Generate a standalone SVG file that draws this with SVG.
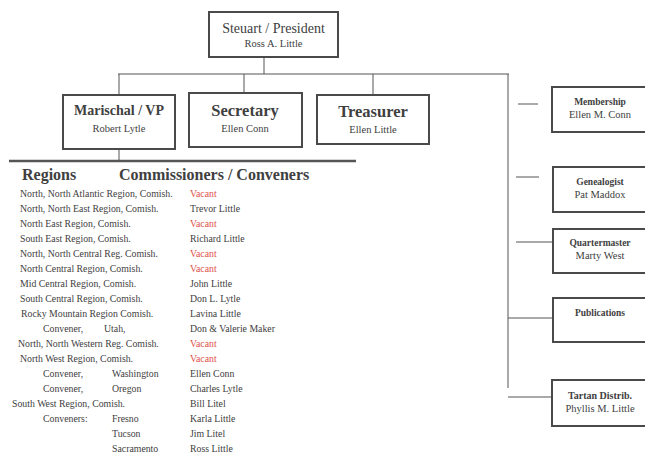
<svg xmlns="http://www.w3.org/2000/svg" width="645" height="457" viewBox="0 0 645 457">
<style>
text{font-family:"Liberation Serif","Times New Roman",serif;fill:#404040}
.box{fill:#fff;stroke:#4a4a4a;stroke-width:2}
.ln{stroke:#555;stroke-width:1;fill:none}
.thick{stroke:#555;stroke-width:2.5}
.t1{font-size:14px}
.t2{font-size:10.5px}
.b{font-weight:bold}
.h{font-size:16px;font-weight:bold}
.r{font-size:9.8px}
.v{fill:#e0504a}
.m{text-anchor:middle}
</style>
<rect width="645" height="457" fill="#fff"/>
<g id="connectors">
<line class="ln" x1="264" y1="57" x2="264" y2="74"/>
<line class="ln" x1="118" y1="74" x2="509" y2="74"/>
<line class="ln" x1="119" y1="74" x2="119" y2="95"/>
<line class="ln" x1="244" y1="74" x2="244" y2="93"/>
<line class="ln" x1="373" y1="74" x2="373" y2="95"/>
<line class="ln" x1="508" y1="74" x2="508" y2="388"/>
<line class="ln" x1="518" y1="104" x2="538" y2="104"/>
<line class="ln" x1="516" y1="177" x2="539" y2="177"/>
<line class="ln" x1="516" y1="242" x2="553" y2="242"/>
<line class="ln" x1="508" y1="318" x2="553" y2="318"/>
<line class="ln" x1="508" y1="397" x2="552" y2="397"/>
<line class="ln" x1="119" y1="149" x2="119" y2="161"/>
<line class="thick" x1="9" y1="161" x2="356" y2="161"/>
</g>
<g id="president">
<rect class="box" x="209" y="12" width="129" height="45"/>
<text class="t1 m" x="273.5" y="33">Steuart / President</text>
<text class="t2 m" x="273.5" y="47">Ross A. Little</text>
</g>
<g id="marischal">
<rect class="box" x="63" y="95" width="112" height="54"/>
<text class="b m" font-size="14" x="119" y="115">Marischal / VP</text>
<text class="t2 m" x="119" y="132">Robert Lytle</text>
</g>
<g id="secretary">
<rect class="box" x="189" y="93" width="113" height="54"/>
<text class="b m" font-size="16.5" x="245" y="116">Secretary</text>
<text class="t2 m" x="245" y="132">Ellen Conn</text>
</g>
<g id="treasurer">
<rect class="box" x="317" y="95" width="112" height="49"/>
<text class="b m" font-size="16.5" x="373" y="117">Treasurer</text>
<text class="t2 m" x="373" y="133">Ellen Little</text>
</g>
<g id="membership">
<rect class="box" x="552" y="87" width="100" height="45"/>
<text class="b m" font-size="9.5" x="600" y="105">Membership</text>
<text class="t2 m" x="600" y="118">Ellen M. Conn</text>
</g>
<g id="genealogist">
<rect class="box" x="553" y="167" width="100" height="45"/>
<text class="b m" font-size="9.5" x="600" y="185">Genealogist</text>
<text class="t2 m" x="600" y="198">Pat Maddox</text>
</g>
<g id="quartermaster">
<rect class="box" x="553" y="229" width="100" height="44"/>
<text class="b m" font-size="9.5" x="600" y="246">Quartermaster</text>
<text class="t2 m" x="600" y="259">Marty West</text>
</g>
<g id="publications">
<rect class="box" x="553" y="298" width="100" height="44"/>
<text class="b m" font-size="9.5" x="600" y="316">Publications</text>
</g>
<g id="tartan">
<rect class="box" x="552" y="380" width="100" height="46"/>
<text class="b m" font-size="10" x="600" y="399">Tartan Distrib.</text>
<text class="t2 m" x="600" y="412">Phyllis M. Little</text>
</g>
<g id="regions">
<text class="h" x="22" y="180">Regions</text>
<text class="h" x="119" y="180">Commissioners / Conveners</text>
<g>
<text class="r" x="20" y="197">North, North Atlantic Region, Comish.</text>
<text class="r" x="20" y="212">North, North East Region, Comish.</text>
<text class="r" x="20" y="227">North East Region, Comish.</text>
<text class="r" x="20" y="242">South East Region, Comish.</text>
<text class="r" x="20" y="257">North, North Central Reg. Comish.</text>
<text class="r" x="20" y="272">North Central Region, Comish.</text>
<text class="r" x="20" y="287">Mid Central Region, Comish.</text>
<text class="r" x="20" y="302">South Central Region, Comish.</text>
<text class="r" x="21" y="317">Rocky Mountain Region Comish.</text>
<text class="r" x="43" y="332">Convener,</text><text class="r" x="104" y="332">Utah,</text>
<text class="r" x="18" y="347">North, North Western Reg. Comish.</text>
<text class="r" x="20" y="362">North West Region, Comish.</text>
<text class="r" x="43" y="377">Convener,</text><text class="r" x="112" y="377">Washington</text>
<text class="r" x="43" y="392">Convener,</text><text class="r" x="112" y="392">Oregon</text>
<text class="r" x="12" y="407">South West Region, Comish.</text>
<text class="r" x="43" y="422">Conveners:</text><text class="r" x="112" y="422">Fresno</text>
<text class="r" x="112" y="437">Tucson</text>
<text class="r" x="112" y="452">Sacramento</text>
</g>
<g>
<text class="r v" x="190" y="197">Vacant</text>
<text class="r" x="190" y="212">Trevor Little</text>
<text class="r v" x="190" y="227">Vacant</text>
<text class="r" x="190" y="242">Richard Little</text>
<text class="r v" x="190" y="257">Vacant</text>
<text class="r v" x="190" y="272">Vacant</text>
<text class="r" x="190" y="287">John Little</text>
<text class="r" x="190" y="302">Don L. Lytle</text>
<text class="r" x="190" y="317">Lavina Little</text>
<text class="r" x="190" y="332">Don &amp; Valerie Maker</text>
<text class="r v" x="190" y="347">Vacant</text>
<text class="r v" x="190" y="362">Vacant</text>
<text class="r" x="190" y="377">Ellen Conn</text>
<text class="r" x="190" y="392">Charles Lytle</text>
<text class="r" x="190" y="407">Bill Litel</text>
<text class="r" x="190" y="422">Karla Little</text>
<text class="r" x="190" y="437">Jim Litel</text>
<text class="r" x="190" y="452">Ross Little</text>
</g>
</g>
</svg>
